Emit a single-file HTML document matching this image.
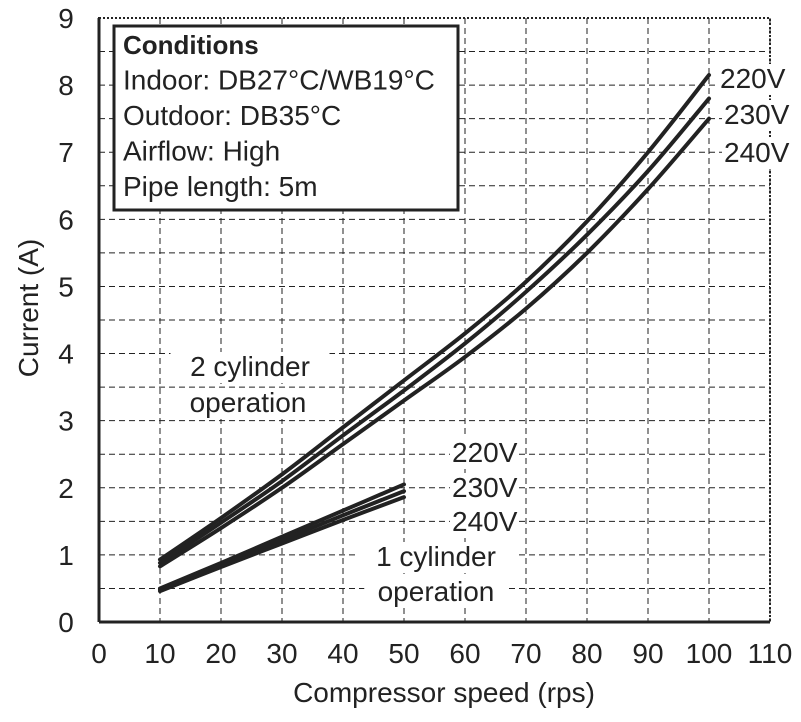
<!DOCTYPE html>
<html><head><meta charset="utf-8"><style>
body{margin:0;background:#fff}
svg text{font-family:"Liberation Sans",Arial,sans-serif;fill:#222}
</style></head><body>
<svg id="chart" width="801" height="717" viewBox="0 0 801 717"></svg>
<script>
const xTicks=[0,10,20,30,40,50,60,70,80,90,100,110];
const yTicks=[0,1,2,3,4,5,6,7,8,9];
const speeds2=[10,20,30,40,50,60,70,80,90,100];
const cyl2_220=[0.93,1.55,2.2,2.9,3.6,4.3,5.07,5.97,7.0,8.15];
const cyl2_230=[0.88,1.48,2.1,2.78,3.45,4.15,4.92,5.77,6.72,7.8];
const cyl2_240=[0.83,1.4,2.0,2.65,3.3,3.95,4.67,5.5,6.45,7.5];
const speeds1=[10,20,30,40,50];
const cyl1_220=[0.5,0.88,1.27,1.66,2.05];
const cyl1_230=[0.48,0.85,1.22,1.59,1.95];
const cyl1_240=[0.46,0.82,1.17,1.52,1.86];
const NS="http://www.w3.org/2000/svg";
const svg=document.getElementById('chart');
const X0=99,X1=770,Y0=622,Y1=18;
const sx=v=>X0+(v-0)/110*(X1-X0);
const sy=v=>Y0-(v/9)*(Y0-Y1);
function mk(t,a,p){const e=document.createElementNS(NS,t);for(const k in a)e.setAttribute(k,a[k]);(p||svg).appendChild(e);return e;}
for(let v=0.5;v<9;v+=0.5){const g=mk('line',{x1:X0,x2:X1,y1:sy(v),y2:sy(v),stroke:'#222','stroke-width':1,'stroke-dasharray':'6,4'});

}
for(const v of xTicks){if(v===0)continue;const g=mk('line',{x1:sx(v),x2:sx(v),y1:Y1,y2:Y0,stroke:'#222','stroke-width':1,'stroke-dasharray':'6,4'});

}
const fr=mk('rect',{x:X0,y:Y1,width:X1-X0,height:Y0-Y1,fill:'none',stroke:'#222','stroke-width':2,'stroke-dasharray':'2,2'});


const xa=mk('line',{x1:X0,x2:X1,y1:Y0,y2:Y0,stroke:'#222','stroke-width':3});


const ya=mk('line',{x1:X0,x2:X0,y1:Y1,y2:Y0,stroke:'#222','stroke-width':3});


const FS=28;
for(const v of xTicks){const t=mk('text',{x:sx(v),y:663,'text-anchor':'middle','font-size':FS});t.textContent=v;

}
for(const v of yTicks){const t=mk('text',{x:66,y:sy(v)+10,'text-anchor':'middle','font-size':FS});t.textContent=v;

}
const xt=mk('text',{x:444,y:702,'text-anchor':'middle','font-size':FS});xt.textContent='Compressor speed (rps)';


const yt=mk('text',{x:0,y:0,'text-anchor':'middle','font-size':FS,transform:'translate(38,308) rotate(-90)'});yt.textContent='Current (A)';


function line(xs,ys,name){const P=xs.map((x,i)=>[sx(x),sy(ys[i])]);
let d='M'+P[0][0]+','+P[0][1];
for(let i=0;i<P.length-1;i++){const p0=P[i-1]||P[i],p1=P[i],p2=P[i+1],p3=P[i+2]||p2;
const c1=[p1[0]+(p2[0]-p0[0])/6,p1[1]+(p2[1]-p0[1])/6],c2=[p2[0]-(p3[0]-p1[0])/6,p2[1]-(p3[1]-p1[1])/6];
d+='C'+c1.join(',')+' '+c2.join(',')+' '+p2.join(',');}
const p=mk('path',{d:d,fill:'none',stroke:'#222','stroke-width':4,'stroke-linecap':'round','stroke-linejoin':'round'});

}
line(speeds2,cyl2_220,'line-2cyl-220v');line(speeds2,cyl2_230,'line-2cyl-230v');line(speeds2,cyl2_240,'line-2cyl-240v');
line(speeds1,cyl1_220,'line-1cyl-220v');line(speeds1,cyl1_230,'line-1cyl-230v');line(speeds1,cyl1_240,'line-1cyl-240v');
function label(x,y,s,name,anchor){const w=s.length*15.5;const b=mk('rect',{x:anchor==='middle'?x-w/2-2:x-2,y:y-24,width:w+4,height:31,fill:'#fff'});


const t=mk('text',{x:x,y:y,'font-size':FS,'text-anchor':anchor||'start'});t.textContent=s;

}
label(720,88,'220V','label-2cyl-220v');label(724,124,'230V','label-2cyl-230v');label(724,162,'240V','label-2cyl-240v');
label(452,462,'220V','label-1cyl-220v');label(452,497,'230V','label-1cyl-230v');label(452,531,'240V','label-1cyl-240v');
label(250,376,'2 cylinder','label-2cyl','middle');label(248,412,'operation','label-2cyl-op','middle');
label(436,566,'1 cylinder','label-1cyl','middle');label(436,601,'operation','label-1cyl-op','middle');
const cb=mk('rect',{x:114,y:26,width:344,height:184,fill:'#fff',stroke:'#222','stroke-width':3});


const lines=['Conditions','Indoor: DB27°C/WB19°C','Outdoor: DB35°C','Airflow: High','Pipe length: 5m'];
lines.forEach((s,i)=>{const t=mk('text',{x:123,y:54+i*35.5,'font-size':i===0?26:28,'font-weight':i===0?'bold':'normal'});t.textContent=s;

});
</script>
</body></html>
